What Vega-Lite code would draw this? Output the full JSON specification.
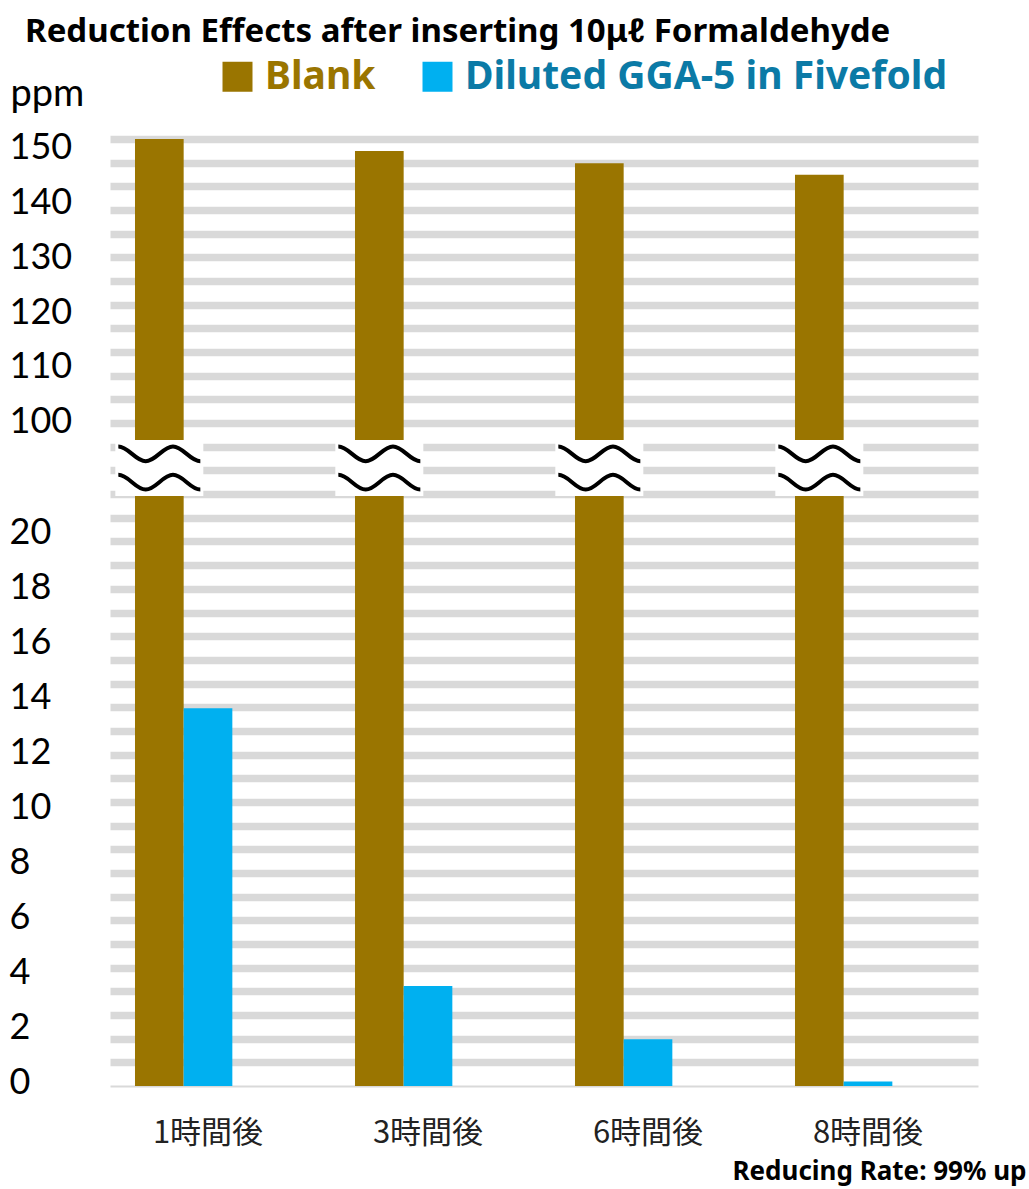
{
  "$schema": "https://vega.github.io/schema/vega-lite/v6.json",
  "autosize": "none",
  "padding": {"left": 110, "top": 139, "right": 51, "bottom": 103},
  "width": 868,
  "height": 947,
  "background": "white",
  "title": {
    "text": "Reduction Effects after inserting 10μℓ Formaldehyde",
    "font": "Noto Sans",
    "fontWeight": "bold",
    "fontSize": 33,
    "color": "#000000",
    "anchor": "start",
    "frame": "group",
    "dx": -85,
    "dy": -4
  },
  "data": {
    "values": [
      {"time": "1時間後", "series": "Blank", "ppm": 151.5},
      {"time": "1時間後", "series": "Diluted GGA-5 in Fivefold", "ppm": 13.74},
      {"time": "3時間後", "series": "Blank", "ppm": 149.3},
      {"time": "3時間後", "series": "Diluted GGA-5 in Fivefold", "ppm": 3.64},
      {"time": "6時間後", "series": "Blank", "ppm": 147.1},
      {"time": "6時間後", "series": "Diluted GGA-5 in Fivefold", "ppm": 1.7},
      {"time": "8時間後", "series": "Blank", "ppm": 145.0},
      {"time": "8時間後", "series": "Diluted GGA-5 in Fivefold", "ppm": 0.16}
    ]
  },
  "resolve": {"scale": {"y": "independent"}},
  "layer": [
    {
      "mark": {"type": "point", "opacity": 0},
      "encoding": {
        "y": {
          "datum": 0,
          "type": "quantitative",
          "scale": {"domain": [0, 40], "nice": false, "zero": true},
          "axis": {
            "orient": "right",
            "values": [0,1,2,3,4,5,6,7,8,9,10,11,12,13,14,15,16,17,18,19,20,21,22,23,24,25,26,27,28,29,30,31,32,33,34,35,36,37,38,39,40],
            "grid": true,
            "gridColor": "#D9D9D9",
            "gridWidth": {"condition": {"test": "datum.value == 0", "value": 2}, "value": 7.7},
            "labels": false,
            "ticks": false,
            "domain": false,
            "title": null
          }
        }
      }
    },
    {
      "layer": [
        {
          "mark": {"type": "bar"},
          "encoding": {
            "x": {
              "field": "time",
              "type": "nominal",
              "sort": null,
              "scale": {"range": [-12, 868], "paddingInner": 0, "paddingOuter": 0},
              "axis": {
                "orient": "bottom",
                "domain": false,
                "ticks": false,
                "labelAngle": 0,
                "labelFont": "Noto Sans CJK JP",
                "labelFontSize": 31,
                "labelColor": "#222222",
                "labelPadding": 32,
                "title": "Reducing Rate: 99% up",
                "titleFont": "Noto Sans",
                "titleFontWeight": "bold",
                "titleFontSize": 26,
                "titleColor": "#000000",
                "titleAlign": "right",
                "titleBaseline": "alphabetic",
                "titleX": 916,
                "titleY": 93
              }
            },
            "xOffset": {
              "field": "series",
              "type": "nominal",
              "scale": {"domain": ["Blank", "Diluted GGA-5 in Fivefold", "_none"], "paddingInner": 0, "paddingOuter": 0.76}
            },
            "y": {
              "field": "ppm",
              "type": "quantitative",
              "scale": {"domain": [0, 21.5, 96.7, 151.5], "range": [947, 356, 301, 0], "nice": false, "zero": false},
              "axis": {
                "orient": "left",
                "values": [0, 2, 4, 6, 8, 10, 12, 14, 16, 18, 20, 100, 110, 120, 130, 140, 150],
                "grid": false,
                "ticks": false,
                "domain": false,
                "labelAlign": "left",
                "labelPadding": 101,
                "labelFont": "Lato",
                "labelFontSize": 36,
                "labelColor": "#000000",
                "labelOffset": {"condition": {"test": "datum.value <= 20", "value": -4}, "value": 0},
                "title": "ppm",
                "titleFont": "Lato",
                "titleFontSize": 38,
                "titleFontWeight": "normal",
                "titleColor": "#000000",
                "titleAngle": 0,
                "titleAlign": "left",
                "titleBaseline": "alphabetic",
                "titleX": -100,
                "titleY": -34
              }
            },
            "color": {
              "field": "series",
              "type": "nominal",
              "scale": {"domain": ["Blank", "Diluted GGA-5 in Fivefold"], "range": ["#9A7500", "#00B0F0"]},
              "legend": {
                "orient": "none",
                "legendX": 108,
                "legendY": -82,
                "direction": "horizontal",
                "title": null,
                "symbolType": "square",
                "symbolSize": 900,
                "symbolStrokeWidth": 0,
                "labelFont": "Noto Sans",
                "labelFontWeight": "bold",
                "labelFontSize": 39,
                "labelLimit": 700,
                "labelOffset": 8,
                "columnPadding": 42,
                "labelColor": {"expr": "datum.label == 'Blank' ? '#9A7500' : '#0B7AA6'"}
              }
            }
          }
        },
        {
          "transform": [{"filter": "datum.series == 'Blank'"}],
          "mark": {
            "type": "point",
            "shape": "M-1,-0.636H1V0.636H-1Z",
            "filled": true,
            "fill": "white",
            "opacity": 1,
            "strokeWidth": 0,
            "size": 7744
          },
          "encoding": {
            "x": {"field": "time", "type": "nominal", "sort": null},
            "xOffset": {"field": "series", "type": "nominal"},
            "y": {"datum": 58.4, "type": "quantitative"}
          }
        },
        {
          "transform": [{"filter": "datum.series == 'Blank'"}],
          "mark": {
            "type": "point",
            "shape": "M-1,-0.525C-0.757,-0.525,-0.576,-0.165,-0.333,-0.165C-0.09,-0.165,0.09,-0.525,0.333,-0.525C0.576,-0.525,0.757,-0.165,1,-0.165M-1,0.165C-0.757,0.165,-0.576,0.525,-0.333,0.525C-0.09,0.525,0.09,0.165,0.333,0.165C0.576,0.165,0.757,0.525,1,0.525",
            "filled": false,
            "stroke": "black",
            "strokeWidth": 4,
            "opacity": 1,
            "size": 6724
          },
          "encoding": {
            "x": {"field": "time", "type": "nominal", "sort": null},
            "xOffset": {"field": "series", "type": "nominal"},
            "y": {"datum": 58.4, "type": "quantitative"}
          }
        }
      ]
    }
  ],
  "config": {
    "view": {"stroke": null}
  }
}
